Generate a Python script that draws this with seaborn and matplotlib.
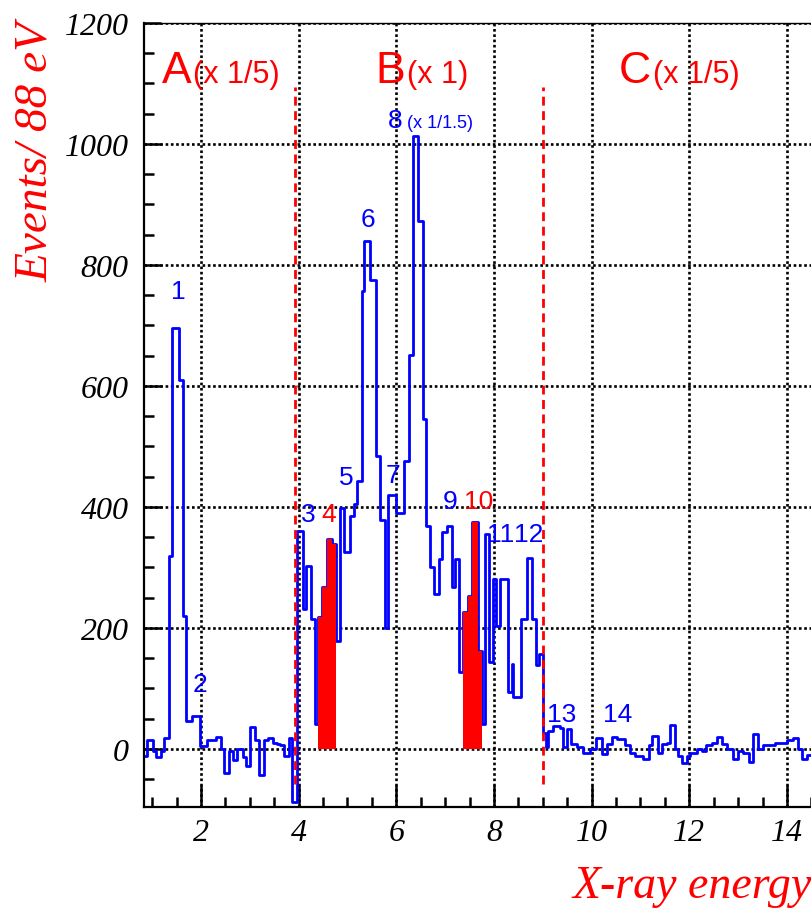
import numpy as np
import pandas as pd
import matplotlib
matplotlib.use('Agg')
import matplotlib.pyplot as plt
import seaborn as sns

# --- spectrum: left edge of each bin run (keV) and events / 88 eV ---
bin_edges = [0.83, 0.90, 1.01, 1.077, 1.174, 1.24, 1.351, 1.413, 1.549, 1.625,
             1.687, 1.81, 1.98, 2.116, 2.307, 2.41, 2.478, 2.58, 2.648, 2.73,
             2.867, 2.921, 3.003, 3.105, 3.187, 3.29, 3.378, 3.48, 3.549, 3.617,
             3.706, 3.801, 3.87, 3.958, 4.082, 4.15, 4.246, 4.334, 4.403, 4.485,
             4.573, 4.676, 4.765, 4.846, 4.928, 5.051, 5.133, 5.20, 5.29, 5.338,
             5.461, 5.584, 5.67, 5.76, 5.84, 6.00, 6.163, 6.266, 6.335, 6.437,
             6.553, 6.60, 6.69, 6.778, 6.874, 6.942, 7.031, 7.133, 7.202, 7.29,
             7.372, 7.475, 7.557, 7.666, 7.748, 7.816, 7.898, 7.987, 8.04, 8.13,
             8.28, 8.36, 8.40, 8.56, 8.68, 8.77, 8.87, 8.92, 9.00, 9.065,
             9.113, 9.215, 9.352, 9.42, 9.488, 9.57, 9.693, 9.83, 9.966, 10.082,
             10.205, 10.308, 10.41, 10.512, 10.683, 10.785, 10.888, 11.058, 11.181, 11.229,
             11.366, 11.434, 11.536, 11.604, 11.707, 11.775, 11.843, 11.946, 12.014, 12.15,
             12.253, 12.342, 12.458, 12.56, 12.663, 12.765, 12.888, 13.004, 13.106, 13.229,
             13.297, 13.413, 13.516, 13.755, 14.007, 14.13, 14.232, 14.30, 14.403]
last_edge = 14.6
counts = [-11, 15, -3, -14, -3, 18, 319, 695, 610, 220,
          46, 54, 5, 15, 20, 0, -39, -3, -19, 0,
          -14, -28, 36, 14, -43, 14, 18, 10, 8, 6,
          -11, 18, -88, 361, 231, 303, 215, 41, 218, 268,
          347, 339, 179, 399, 325, 385, 405, 443, 757, 840,
          775, 485, 378, 200, 420, 390, 476, 651, 1013, 873,
          545, 369, 300, 256, 314, 359, 369, 268, 314, 127,
          226, 253, 375, 162, 41, 355, 143, 281, 204, 281,
          94, 140, 86, 215, 315, 215, 138, 157, 27, 3,
          30, 38, 34, 3, 33, 8, 3, -7, 0, 18,
          -8, 8, 20, 17, 6, -7, -12, -17, 6, 22,
          -6, 8, 10, 40, 0, -12, -23, -11, -7, 0,
          -3, 6, 10, 20, 8, 0, -17, -3, -7, -22,
          24, 0, 6, 9, 14, 18, 0, -17, -10]

# red highlighted bins (peaks 4 and 10); the middle bin is an empty gap
red_edges = [4.403, 4.485, 4.573, 4.676, 4.765, 7.372, 7.475, 7.557, 7.666, 7.748]
red_counts = [218, 268, 347, 339, 0, 226, 253, 375, 162]

# region boundaries
region_bounds = [3.925, 9.01]
bound_low, bound_high = -58, 1095

# region labels
region_names = ['A', 'B', 'C']
region_scales = ['(x 1/5)', '(x 1)', '(x 1/5)']
region_x = [1.195, 5.563, 10.546]
scale_x = [1.836, 6.219, 11.25]
region_y = 1103

# peak numbers
peak_names = ['1', '2', '3', '4', '5', '6', '7', '9', '10', '11', '12', '13', '14']
peak_x = [1.53, 1.98, 4.19, 4.61, 4.97, 5.42, 5.93, 7.10, 7.68, 8.13, 8.72, 9.39, 10.54]
peak_y = [745, 96, 377, 377, 438, 864, 441, 398, 398, 344, 344, 46, 46]
red_peaks = ['4', '10']

BLUE = '#0000ff'
RED = '#ff0000'

sns.set_theme(style='ticks')
plt.rcParams['font.family'] = ['Liberation Serif', 'DejaVu Serif']
SANS = ['Liberation Sans', 'DejaVu Sans']

fig = plt.figure(figsize=(8.12, 9.12), dpi=100)
ax = fig.add_axes([144 / 812, 104 / 912, 668 / 812, 784 / 912])

df = pd.DataFrame({'energy': bin_edges + [last_edge],
                   'events': counts + [counts[-1]]})
sns.lineplot(data=df, x='energy', y='events', drawstyle='steps-post',
             color=BLUE, linewidth=2.0, estimator=None, sort=False, ax=ax, zorder=2)

red_centers = [(a + b) / 2 for a, b in zip(red_edges[:-1], red_edges[1:])]
sns.histplot(x=red_centers, weights=red_counts, bins=red_edges, color=RED,
             alpha=1, linewidth=0, ax=ax, zorder=3)

ax.vlines(region_bounds, bound_low, bound_high, colors=RED, linewidth=2.0,
          linestyles=[(0, (3.2, 2.0))], zorder=4)

ax.set_xlim(0.833, 14.513)
ax.set_ylim(-96, 1199)
ax.set_xlabel('')
ax.set_ylabel('')

ax.set_xticks(np.arange(2, 15, 2))
ax.set_xticks(np.arange(1, 14.6, 0.5), minor=True)
ax.set_yticks(np.arange(0, 1201, 200))
ax.set_yticks(np.arange(-50, 1200, 50), minor=True)
ax.tick_params(axis='both', which='both', direction='in', width=1.8, color='black',
               top=False, right=False)
ax.tick_params(axis='x', which='major', length=16, pad=8)
ax.tick_params(axis='y', which='major', length=12, pad=11)
ax.tick_params(axis='both', which='minor', length=7)
for lab in ax.get_xticklabels() + ax.get_yticklabels():
    lab.set_fontstyle('italic')
    lab.set_fontsize(23)
    lab.set_color('black')

ax.grid(True, which='major', color='black', linestyle=(0, (1, 1)), linewidth=1.9)
ax.set_axisbelow(True)
for side in ['left', 'bottom']:
    ax.spines[side].set_linewidth(1.6)
    ax.spines[side].set_color('black')
ax.spines['top'].set_linewidth(1.0)
ax.spines['top'].set_color('black')
ax.spines['right'].set_visible(False)

for name, sc, xa, xs in zip(region_names, region_scales, region_x, scale_x):
    ax.text(xa, region_y, name, color=RED, fontsize=32, family=SANS,
            ha='left', va='baseline')
    ax.text(xs, region_y, sc, color=RED, fontsize=22, family=SANS,
            ha='left', va='baseline')

for name, xp, yp in zip(peak_names, peak_x, peak_y):
    col = RED if name in red_peaks else BLUE
    ax.text(xp, yp, name, color=col, fontsize=19, family=SANS,
            ha='center', va='baseline')

ax.text(5.83, 1028, '8', color=BLUE, fontsize=19, family=SANS, ha='left', va='baseline')
ax.text(6.219, 1028, '(x 1/1.5)', color=BLUE, fontsize=13, family=SANS,
        ha='left', va='baseline')

fig.text(36 / 812, 1 - 22 / 912, 'Events/ 88 eV', color=RED, fontsize=34,
         style='italic', rotation=90, ha='center', va='top')
fig.text(573 / 812, 1 - 898 / 912, 'X-ray energy', color=RED, fontsize=33,
         style='italic', ha='left', va='baseline')

fig.savefig('out.png', dpi=100)
